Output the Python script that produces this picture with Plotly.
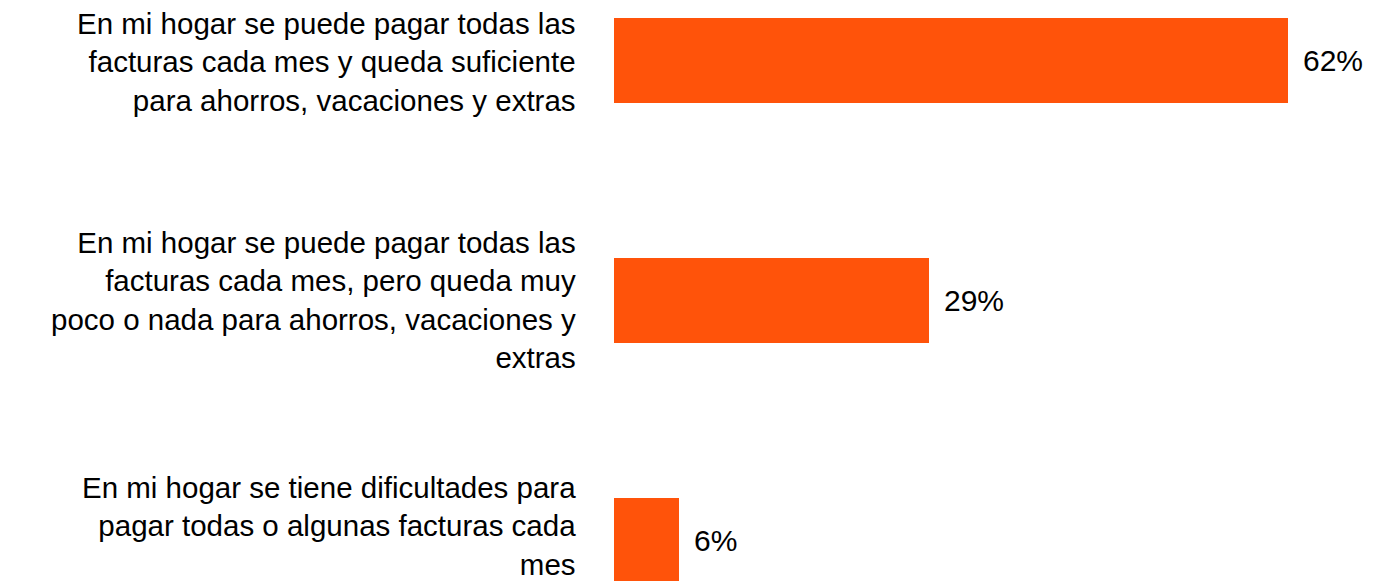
import plotly.graph_objects as go

categories = [
    "En mi hogar se puede pagar todas las<br>facturas cada mes y queda suficiente<br>para ahorros, vacaciones y extras",
    "En mi hogar se puede pagar todas las<br>facturas cada mes, pero queda muy<br>poco o nada para ahorros, vacaciones y<br>extras",
    "En mi hogar se tiene dificultades para<br>pagar todas o algunas facturas cada<br>mes",
]
values = [62, 29, 6]
value_labels = ["62%", "29%", "6%"]

positions = list(range(len(categories)))
label_yshift = [-1, 1, 15]
bar_color = "#FF530A"
font_family = "Arial, 'Liberation Sans', sans-serif"
label_size = 29.5

fig = go.Figure()
fig.add_trace(go.Bar(
    x=values,
    y=positions,
    orientation="h",
    width=0.354,
    marker=dict(color=bar_color, line=dict(width=0)),
    hoverinfo="skip",
    cliponaxis=True,
))

for p, v, t in zip(positions, values, value_labels):
    fig.add_annotation(
        x=v, y=p, text=t, showarrow=False,
        xanchor="left", yanchor="middle", xshift=13,
        font=dict(family=font_family, size=30, color="#000000"),
    )

for p, c, ys in zip(positions, categories, label_yshift):
    fig.add_annotation(
        x=0, xref="paper", y=p, yref="y", text=c, showarrow=False,
        xanchor="right", yanchor="middle", align="right",
        xshift=-36, yshift=ys,
        font=dict(family=font_family, size=label_size, color="#000000"),
    )

fig.update_layout(
    width=1373, height=581,
    margin=dict(l=614, r=0, t=0, b=0),
    paper_bgcolor="white", plot_bgcolor="white",
    showlegend=False,
    font=dict(family=font_family, size=30, color="#000000"),
    bargap=0,
)
fig.update_xaxes(range=[0, 69.83], visible=False, showgrid=False, zeroline=False)
fig.update_yaxes(
    range=[2.1675, -0.253],
    tickvals=positions, showticklabels=False,
    ticks="", showgrid=False, zeroline=False, showline=False,
)

fig.write_html(
    "out.html",
    config={"displayModeBar": False},
    post_script="document.body.style.margin='0';document.body.style.overflow='hidden';",
)
